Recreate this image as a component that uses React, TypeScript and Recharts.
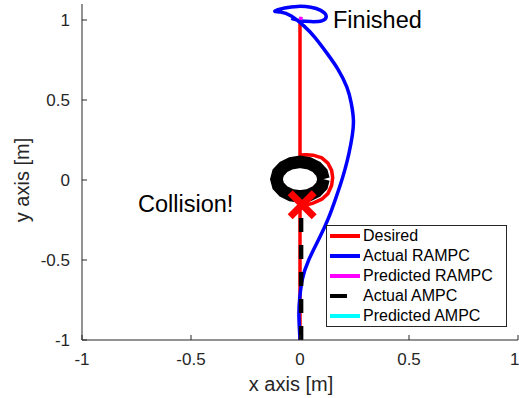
import { ComposedChart, Line, Scatter, XAxis, YAxis, Legend } from 'recharts';

const xTicks = [-1, -0.5, 0, 0.5, 1];
const yTicks = [-1, -0.5, 0, 0.5, 1];

// desired path, bends round the right side of the obstacle
const desired = [
  { x: 0, y: 1 },
  { x: 0, y: 0.156 },
  { x: 0.03, y: 0.158 },
  { x: 0.06, y: 0.155 },
  { x: 0.1, y: 0.138 },
  { x: 0.128, y: 0.105 },
  { x: 0.145, y: 0.06 },
  { x: 0.15, y: 0.015 },
  { x: 0.145, y: -0.035 },
  { x: 0.128, y: -0.085 },
  { x: 0.1, y: -0.12 },
  { x: 0.06, y: -0.145 },
  { x: 0.02, y: -0.16 },
  { x: 0, y: -0.18 },
  { x: 0, y: -1 },
];

const actualRampc = [
  { x: 0, y: -1 },
  { x: -0.005, y: -0.85 },
  { x: -0.002, y: -0.75 },
  { x: 0.01, y: -0.625 },
  { x: 0.04, y: -0.5 },
  { x: 0.09, y: -0.36 },
  { x: 0.13, y: -0.24 },
  { x: 0.16, y: -0.13 },
  { x: 0.185, y: -0.03 },
  { x: 0.205, y: 0.06 },
  { x: 0.225, y: 0.17 },
  { x: 0.24, y: 0.28 },
  { x: 0.245, y: 0.375 },
  { x: 0.235, y: 0.48 },
  { x: 0.215, y: 0.58 },
  { x: 0.175, y: 0.69 },
  { x: 0.125, y: 0.79 },
  { x: 0.069, y: 0.89 },
  { x: 0.02, y: 0.96 },
  { x: -0.04, y: 1.025 },
  { x: -0.09, y: 1.05 },
  { x: -0.115, y: 1.056 },
  { x: -0.07, y: 1.075 },
  { x: -0.01, y: 1.085 },
  { x: 0.05, y: 1.08 },
  { x: 0.095, y: 1.06 },
  { x: 0.12, y: 1.025 },
  { x: 0.1, y: 0.995 },
  { x: 0.05, y: 0.99 },
  { x: 0, y: 0.995 },
  { x: -0.04, y: 1.01 },
];

const predictedRampc = [
  { x: 0.003, y: 1.0 },
  { x: 0.005, y: 1.02 },
];

const actualAmpc = [
  { x: 0.005, y: -1 },
  { x: 0.005, y: -0.15 },
];

const predictedAmpc = [
  { x: 0.005, y: -0.17 },
  { x: 0.005, y: -0.14 },
];

const obstacle = [
  { x: 0.108, y: 0.005 },
  { x: 0.1, y: 0.046 },
  { x: 0.076, y: 0.081 },
  { x: 0.041, y: 0.105 },
  { x: 0, y: 0.113 },
  { x: -0.041, y: 0.105 },
  { x: -0.076, y: 0.081 },
  { x: -0.1, y: 0.046 },
  { x: -0.108, y: 0.005 },
  { x: -0.1, y: -0.036 },
  { x: -0.076, y: -0.071 },
  { x: -0.041, y: -0.095 },
  { x: 0, y: -0.103 },
  { x: 0.041, y: -0.095 },
  { x: 0.076, y: -0.071 },
  { x: 0.1, y: -0.036 },
  { x: 0.108, y: 0.005 },
];

const collision = [{ x: 0.01, y: -0.155 }];

const legendItems = [
  { name: 'Desired', color: '#ff0000', dash: undefined },
  { name: 'Actual RAMPC', color: '#0000ff', dash: undefined },
  { name: 'Predicted RAMPC', color: '#ff00ff', dash: undefined },
  { name: 'Actual AMPC', color: '#000000', dash: '17 20' },
  { name: 'Predicted AMPC', color: '#00ffff', dash: undefined },
];

const font = '"Liberation Sans", Arial, Helvetica, sans-serif';
const axisColor = '#262626';

const CrossMark = (props: any) => {
  const { cx, cy } = props;
  const s = 12;
  return (
    <g>
      <line x1={cx - s} y1={cy - s} x2={cx + s} y2={cy + s} stroke="#ff0000" strokeWidth={7} />
      <line x1={cx - s} y1={cy + s} x2={cx + s} y2={cy - s} stroke="#ff0000" strokeWidth={7} />
    </g>
  );
};

const renderLegend = () => (
  <div
    style={{
      border: '1px solid #262626',
      background: '#fff',
      width: 181,
      height: 102,
      boxSizing: 'border-box',
      fontFamily: font,
      fontSize: 16,
      color: '#000',
    }}
  >
    {legendItems.map((item) => (
      <div key={item.name} style={{ display: 'flex', alignItems: 'center', height: 20, whiteSpace: 'nowrap' }}>
        <svg width={36} height={6} style={{ flex: 'none' }}>
          <line x1={3} y1={3} x2={33} y2={3} stroke={item.color} strokeWidth={4} strokeDasharray={item.dash} />
        </svg>
        <span>{item.name}</span>
      </div>
    ))}
  </div>
);

export default function App() {
  return (
    <div style={{ position: 'absolute', left: 0, top: 0, width: 519, height: 398, background: '#fff' }}>
      <ComposedChart width={519} height={398} margin={{ top: 4, right: 1, bottom: 8, left: 0 }}>
        <XAxis
          dataKey="x"
          type="number"
          domain={[-1, 1]}
          ticks={xTicks}
          allowDataOverflow
          height={50}
          tickSize={-5}
          tickMargin={18}
          stroke={axisColor}
          tick={{ fill: axisColor, fontSize: 17, fontFamily: font }}
        />
        <YAxis
          dataKey="y"
          type="number"
          domain={[-1, 1.1]}
          ticks={yTicks}
          allowDataOverflow
          width={82}
          tickSize={-5}
          tickMargin={17}
          stroke={axisColor}
          tick={{ fill: axisColor, fontSize: 17, fontFamily: font }}
        />
        <Legend
          layout="horizontal"
          verticalAlign="middle"
          align="center"
          content={renderLegend}
          wrapperStyle={{ left: 326, top: 225, width: 181, height: 102 }}
        />
        <Line data={desired} dataKey="y" type="linear" stroke="#ff0000" strokeWidth={3.5} dot={false} isAnimationActive={false} legendType="none" />
        <Line data={actualRampc} dataKey="y" type="natural" stroke="#0000ff" strokeWidth={3.5} dot={false} isAnimationActive={false} legendType="none" />
        <Line data={predictedRampc} dataKey="y" type="linear" stroke="#ff00ff" strokeWidth={3.5} dot={false} isAnimationActive={false} legendType="none" />
        <Line data={actualAmpc} dataKey="y" type="linear" stroke="#000000" strokeWidth={4.5} strokeDasharray="14 13" dot={false} isAnimationActive={false} legendType="none" />
        <Line data={predictedAmpc} dataKey="y" type="linear" stroke="#00ffff" strokeWidth={3.5} dot={false} isAnimationActive={false} legendType="none" />
        <Line data={obstacle} dataKey="y" type="linear" stroke="#000000" strokeWidth={12.5} dot={false} isAnimationActive={false} legendType="none" />
        <Scatter data={collision} dataKey="y" shape={CrossMark} isAnimationActive={false} legendType="none" />
      </ComposedChart>
      <svg width={519} height={398} style={{ position: 'absolute', left: 0, top: 0, pointerEvents: 'none' }}>
        <g fontFamily={font} fill="#000">
          <text x={333} y={28} fontSize={23.5}>Finished</text>
          <text x={138} y={212} fontSize={23.5}>Collision!</text>
          <text x={291} y={391} fontSize={20} textAnchor="middle" fill={axisColor}>x axis [m]</text>
          <text x={29} y={180} fontSize={20} textAnchor="middle" fill={axisColor} transform="rotate(-90 29 180)">y axis [m]</text>
        </g>
      </svg>
    </div>
  );
}
